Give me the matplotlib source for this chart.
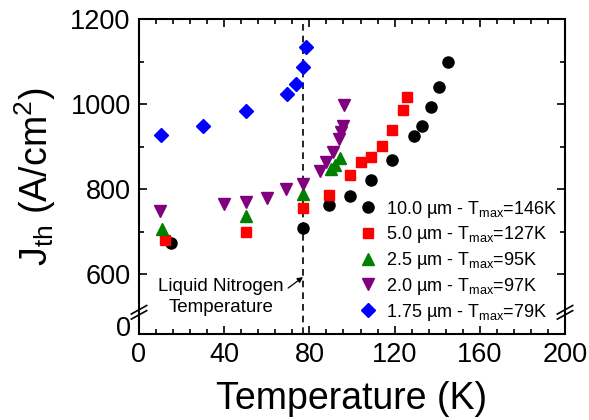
import matplotlib
matplotlib.use("Agg")
import matplotlib.pyplot as plt
from matplotlib.ticker import MultipleLocator, FixedLocator
import matplotlib.transforms as mtransforms

plt.rcParams['font.family'] = ['Liberation Sans', 'DejaVu Sans']
plt.rcParams['mathtext.fontset'] = 'custom'
plt.rcParams['mathtext.rm'] = 'Liberation Sans'
plt.rcParams['mathtext.it'] = 'Liberation Sans:italic'
plt.rcParams['mathtext.bf'] = 'Liberation Sans:bold'

# ---- data ----
T_10 = [15, 77, 89, 99, 109, 119, 129, 133, 137, 141, 145]
J_10 = [674, 709, 762, 784, 821, 868, 925, 949, 992, 1039, 1100]

T_5 = [12, 50, 77, 89, 99, 104, 109, 114, 119, 124, 126]
J_5 = [680, 698, 756, 786, 833, 864, 875, 901, 940, 986, 1016]

T_25 = [11, 50, 77, 90, 92, 94.5]
J_25 = [705, 737, 788, 847, 857, 873]

T_20 = [10, 40, 50, 60, 69, 77, 85, 88, 91, 94, 95, 96, 96.3]
J_20 = [749, 765, 770, 778, 800, 813, 843, 864, 888, 917, 935, 948, 998]

T_175 = [10.5, 30, 50, 69.5, 73.5, 77, 78.5]
J_175 = [927, 949, 984, 1024, 1047, 1088, 1135]

labels = [r"10.0 µm - T$_{\mathrm{max}}$=146K",
          r"5.0 µm - T$_{\mathrm{max}}$=127K",
          r"2.5 µm - T$_{\mathrm{max}}$=95K",
          r"2.0 µm - T$_{\mathrm{max}}$=97K",
          r"1.75 µm - T$_{\mathrm{max}}$=79K"]

y_ticks = [478, 600, 800, 1000, 1200]
y_ticklabels = ["0", "600", "800", "1000", "1200"]
x_ticks = [0, 40, 80, 120, 160, 200]
LN2_T = 77

fig = plt.figure(figsize=(5.89, 4.20), dpi=100)
ax = fig.add_axes([139/589, 1-334/420, (565-139)/589, (334-19)/420])

ax.axvline(LN2_T, color='black', ls=(0, (4, 3)), lw=1.2, zorder=1)

ax.plot(T_10, J_10, 'o', color='black', ms=8, ls='none', label=labels[0], zorder=3)
ax.plot(T_5, J_5, 's', color='#ff0000', ms=7, ls='none', label=labels[1], zorder=3)
ax.plot(T_25, J_25, '^', color='#008000', ms=8.5, ls='none', label=labels[2], zorder=3)
ax.plot(T_20, J_20, 'v', color='#800080', ms=8.5, ls='none', label=labels[3], zorder=3)
ax.plot(T_175, J_175, 'D', color='#0000ff', ms=7, ls='none', label=labels[4], zorder=3)

ax.set_xlim(0, 200)
ax.set_ylim(459, 1200)
ax.set_xticks(x_ticks)
ax.xaxis.set_minor_locator(MultipleLocator(8))
ax.set_yticks(y_ticks)
ax.set_yticklabels(y_ticklabels)
ax.yaxis.set_minor_locator(FixedLocator([700, 900, 1100]))

ax.tick_params(which='both', direction='in', top=True, right=True, width=1.2)
ax.tick_params(which='major', length=6, labelsize=19.5, pad=6)
ax.tick_params(which='minor', length=3.5)
for sp in ax.spines.values():
    sp.set_linewidth(1.5)

# hide tick marks for the broken-axis "0" label
t0 = ax.yaxis.get_major_ticks()[0]
t0.tick1line.set_visible(False)
t0.tick2line.set_visible(False)

# break marks
trans = mtransforms.blended_transform_factory(ax.transAxes, ax.transData)
for xa in (0, 1):
    for dy in (-6, 6):
        ax.plot([xa - 0.018, xa + 0.018], [510 + dy - 10, 510 + dy + 10],
                transform=trans, color='black', lw=1.2, clip_on=False, zorder=5)

ax.set_xlabel("Temperature (K)", fontsize=27, labelpad=9)
ax.set_ylabel(r"J$_{\mathrm{th}}$ (A/cm$^2$)", fontsize=27, labelpad=9)

ax.text(38.5, 546, "Liquid Nitrogen\nTemperature", ha='center', va='center',
        fontsize=13.5, linespacing=1.3)
ax.annotate("", xy=(LN2_T, 593), xytext=(70, 567),
            arrowprops=dict(arrowstyle='-|>', color='black', lw=0.9,
                            mutation_scale=8, shrinkA=0, shrinkB=0))

leg = ax.legend(loc='lower right', bbox_to_anchor=(0.99, 0.025), frameon=False,
                fontsize=13, numpoints=1, handlelength=1.0, handletextpad=0.5,
                labelspacing=0.26, borderaxespad=0.0, borderpad=0.2)

fig.savefig("out.png", dpi=100)
